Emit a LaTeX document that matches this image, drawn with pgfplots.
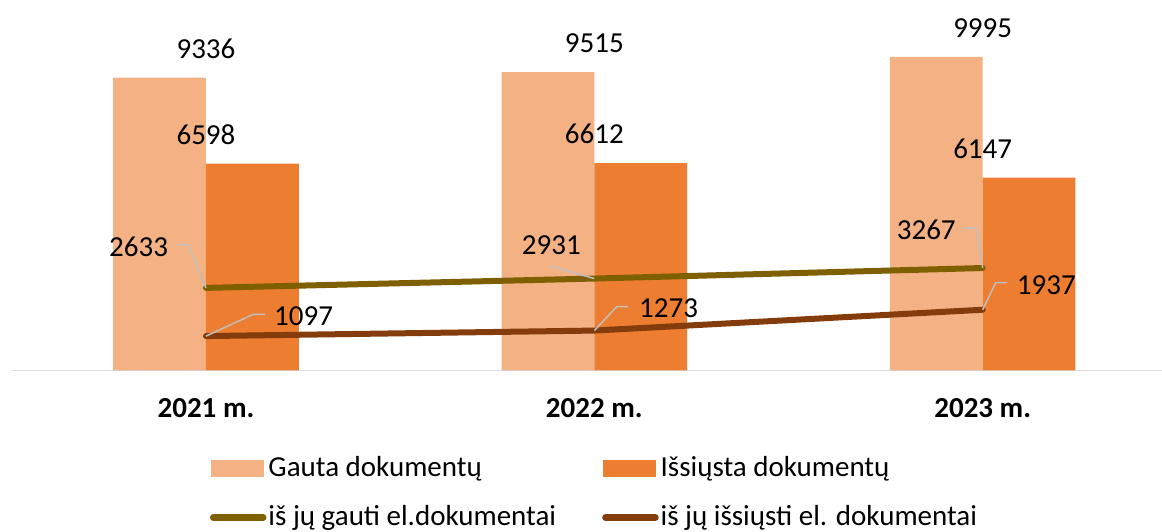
\documentclass[border=0pt]{standalone}
\usepackage{fontspec}
\setmainfont{Carlito}
\usepackage{pgfplots}
\pgfplotsset{compat=1.18}
\definecolor{cLight}{HTML}{F4B183}
\definecolor{cDark}{HTML}{ED7D31}
\definecolor{cOlive}{HTML}{7F6000}
\definecolor{cBrown}{HTML}{843C0C}
\definecolor{cLead}{HTML}{BFBFBF}
\definecolor{cAxis}{HTML}{D9DCE3}
\newcommand\fs{\fontsize{29pt}{35pt}\selectfont}
\begin{document}
\begin{tikzpicture}[x=1pt,y=1pt]
\begin{axis}[
  at={(11.8pt,161.5pt)}, anchor=south west,
  scale only axis, width=1150.2pt, height=370.5pt,
  xmin=-0.5, xmax=2.4618, ymin=0, ymax=11811,
  axis y line=none, axis x line*=bottom,
  x axis line style={draw=cAxis, line width=1.5pt, -},
  xtick={0,1,2}, xticklabels={2021 m.,2022 m.,2023 m.},
  major tick length=0pt,
  xticklabel style={font=\fs\bfseries, anchor=base, inner sep=0pt, yshift=-47.5pt},
  ytick=\empty,
  clip=false,
  /pgf/number format/1000 sep={},
  /pgf/number format/assume math mode=true,
  every node near coord/.append style={font=\fs, inner sep=0pt, anchor=south, yshift=19pt, text=black},
  legend columns=2,
  legend style={at={(0.1723,-0.2254)}, anchor=north west, draw=none, fill=none,
    inner sep=0pt, outer sep=0pt, row sep=20pt,
    cells={anchor=west},
    nodes={font=\fs, inner sep=0pt, text height=22pt, text depth=7pt},
    /tikz/every odd column/.append style={column sep=2pt},
    /tikz/every even column/.append style={column sep=46pt}},
]
\addplot[ybar, bar width=92.8pt, bar shift=-46.4pt, fill=cLight, draw=none,
  nodes near coords,
  legend image code/.code={\fill[cLight] (0pt,-8.5pt) rectangle (52.3pt,8.5pt);}]
  coordinates {(0,9336) (1,9515) (2,9995)};
\addlegendentry{Gauta dokumentų}
\addplot[ybar, bar width=92.8pt, bar shift=46.4pt, fill=cDark, draw=none,
  nodes near coords,
  legend image code/.code={\fill[cDark] (0pt,-8.5pt) rectangle (52.3pt,8.5pt);}]
  coordinates {(0,6598) (1,6612) (2,6147)};
\addlegendentry{Išsiųsta dokumentų}
\addplot[cOlive, line width=6pt, line cap=round, mark=none,
  legend image code/.code={\draw[cOlive, line width=6.5pt, line cap=round] (2pt,0pt) -- (52pt,0pt);}]
  coordinates {(0,2633) (1,2931) (2,3267)};
\addlegendentry{iš jų gauti el.dokumentai}
\addplot[cBrown, line width=6pt, line cap=round, mark=none,
  legend image code/.code={\draw[cBrown, line width=6.5pt, line cap=round] (2pt,0pt) -- (52pt,0pt);}]
  coordinates {(0,1097) (1,1273) (2,1937)};
\addlegendentry{iš jų išsiųsti el. dokumentai}

% leader lines and labels for the line series
\draw[cLead, line width=1.5pt] (axis cs:0,2633) -- ++(-17.7pt,43.1pt) -- ++(-11pt,0pt);
\node[font=\fs, anchor=base west, inner sep=0pt] at ([shift={(-97pt,31.7pt)}]axis cs:0,2633) {2633};
\draw[cLead, line width=1.5pt] (axis cs:0,1097) -- ++(47pt,21.6pt) -- ++(12pt,0pt);
\node[font=\fs, anchor=base west, inner sep=0pt] at ([shift={(68pt,10.6pt)}]axis cs:0,1097) {1097};
\draw[cLead, line width=1.5pt] (axis cs:1,2931) -- ++(-43.6pt,12.6pt);
\node[font=\fs, anchor=base west, inner sep=0pt] at ([shift={(-72.6pt,23.6pt)}]axis cs:1,2931) {2931};
\draw[cLead, line width=1.5pt] (axis cs:1,1273) -- ++(22.4pt,23.9pt) -- ++(11.3pt,0pt);
\node[font=\fs, anchor=base west, inner sep=0pt] at ([shift={(44.7pt,12.9pt)}]axis cs:1,1273) {1273};
\draw[cLead, line width=1.5pt] (axis cs:2,3267) -- ++(-6.7pt,40pt) -- ++(-12.7pt,0pt);
\node[font=\fs, anchor=base west, inner sep=0pt] at ([shift={(-86pt,28.7pt)}]axis cs:2,3267) {3267};
\draw[cLead, line width=1.5pt] (axis cs:2,1937) -- ++(13pt,27pt) -- ++(11.6pt,0pt);
\node[font=\fs, anchor=base west, inner sep=0pt] at ([shift={(34pt,15.4pt)}]axis cs:2,1937) {1937};
\end{axis}
\pgfresetboundingbox
\useasboundingbox (0,0) rectangle (1162,532);
\end{tikzpicture}
\end{document}
